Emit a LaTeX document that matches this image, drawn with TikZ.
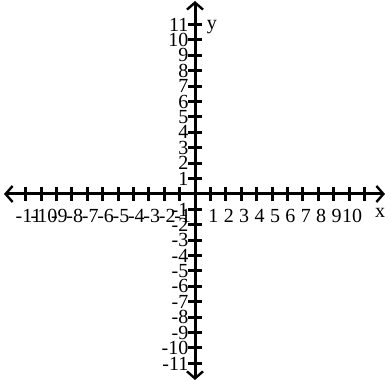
\documentclass[tikz,border=0pt]{standalone}
\usepackage{fontspec}
\setmainfont{Liberation Serif}
\usetikzlibrary{arrows.meta,calc}
\begin{document}
\begin{tikzpicture}[x=1pt,y=1pt,
  axisline/.style={line width=3pt,
    {Straight Barb[length=7pt,width=16pt,line width=2.4pt]}-{Straight Barb[length=7pt,width=16pt,line width=2.4pt]}},
  tickline/.style={line width=3pt},
  numlab/.style={font=\fontsize{20}{20}\selectfont, inner sep=0pt}]
\useasboundingbox (0,0) rectangle (392,381);
\coordinate (O) at (195,187);
\coordinate (L) at (4,187);
\coordinate (R) at (385,187);
\coordinate (T) at (195,380);
\coordinate (B) at (195,1);
\draw[axisline] (L) -- (R);
\draw[axisline] (B) -- (T);
\def\u{15.4}
\foreach \i in {-11,...,-1,1,2,...,11} {
  \draw[tickline] ($(O)+(\i*\u,-7)$) -- ($(O)+(\i*\u,7)$);
  \draw[tickline] ($(O)+(-7,\i*\u)$) -- ($(O)+(7,\i*\u)$);
}
\foreach \i in {-11,...,-1} {
  \node[numlab, anchor=north] (xl\i) at ($(O)+(\i*\u+3,-15)$) {-\the\numexpr-\i\relax};
}
\foreach \i in {1,...,10} {
  \node[numlab, anchor=north] (xl\i) at ($(O)+(\i*\u+3,-15)$) {\i};
}
\foreach \i in {1,...,11} {
  \node[numlab, anchor=east] (yl\i) at ($(O)+(-6.5,\i*\u)$) {\i};
}
\foreach \i in {-11,...,-1} {
  \node[numlab, anchor=east] (yl\i) at ($(O)+(-6.5,\i*\u)$) {-\the\numexpr-\i\relax};
}
\node[numlab] (xname) at (380,168) {x};
\node[numlab] (yname) at (212,354) {y};
\end{tikzpicture}
\end{document}
